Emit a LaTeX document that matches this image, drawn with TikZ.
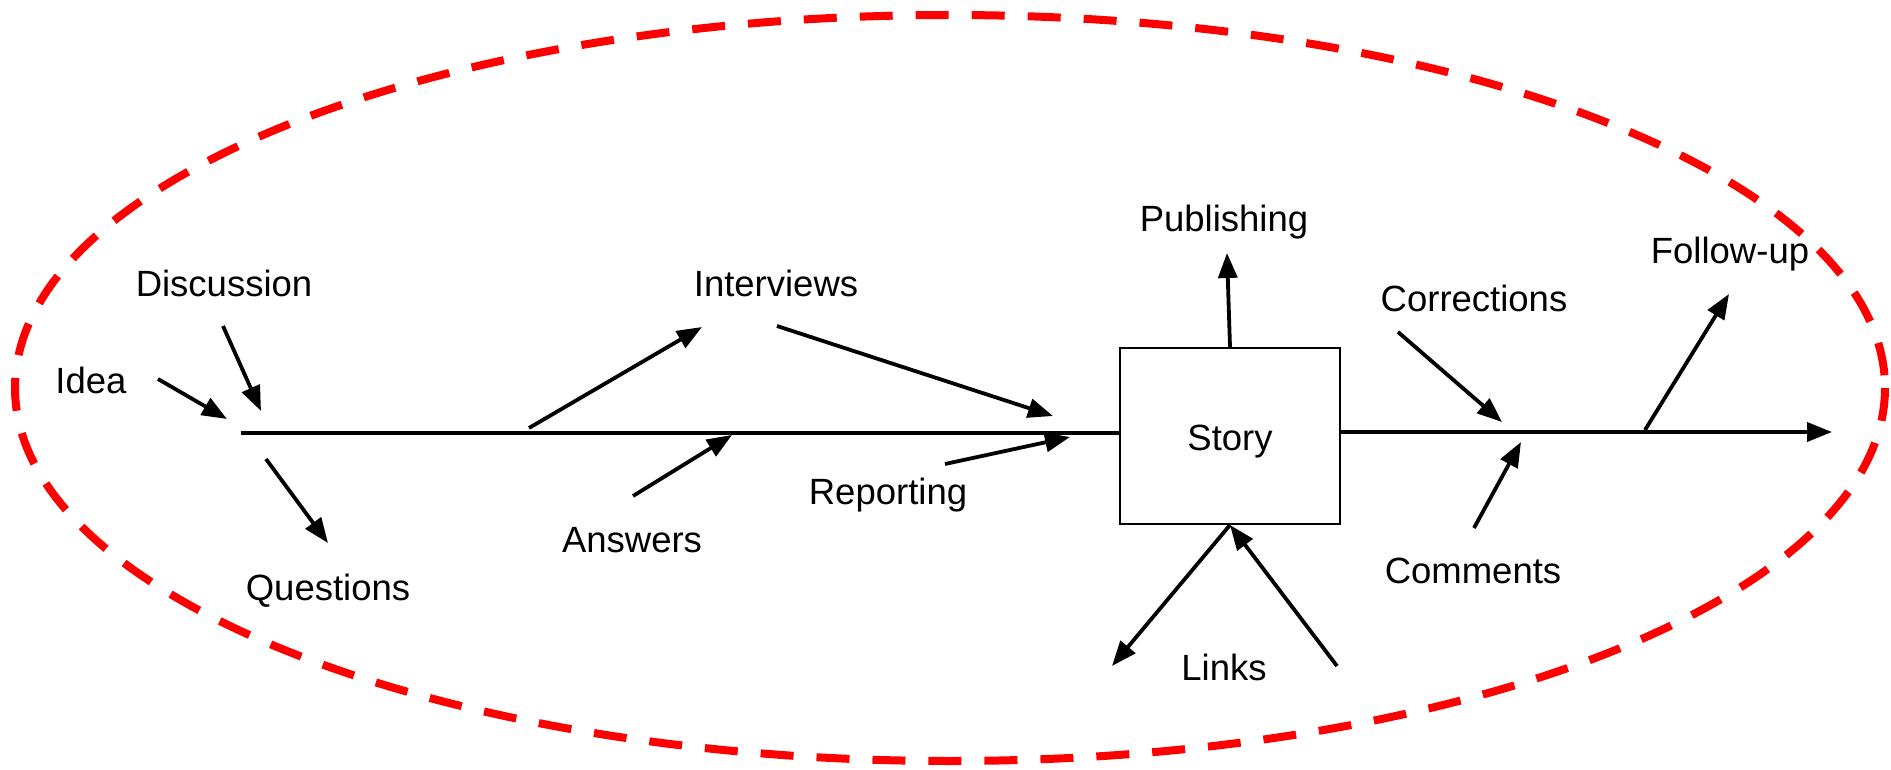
\documentclass[tikz,border=0pt]{standalone}
\usepackage{fontspec}
\setmainfont{Liberation Sans}
\usetikzlibrary{arrows.meta}
\begin{document}
\begin{tikzpicture}[x=1pt,y=-1pt,
  lbl/.style={anchor=base,inner sep=0pt,font=\fontsize{36.5}{44}\selectfont},
  arr/.style={line width=3.8pt,-{Triangle[length=25pt,width=19pt]}},
  spine/.style={line width=3.6pt},
  storybox/.style={draw,line width=2pt,minimum width=220pt,minimum height=176pt,inner sep=0pt,font=\fontsize{36.5}{44}\selectfont},
  loop/.style={draw=red,line width=8pt,dash pattern=on 33pt off 23pt}]
\useasboundingbox (0,0) rectangle (1891,770);
\draw[loop] (950,388) ellipse [x radius=935, y radius=373];
% box
\node[storybox] (story) at (1230,436) {};
\node[lbl] (storyt) at (1230,450) {Story};
% labels
\node[lbl] (idea) at (91,393) {Idea};
\node[lbl] (disc) at (224,297) {Discussion};
\node[lbl] (ques) at (328,600) {Questions};
\node[lbl] (intv) at (776,297) {Interviews};
\node[lbl] (answ) at (632,552) {Answers};
\node[lbl] (repo) at (888,504) {Reporting};
\node[lbl] (publ) at (1224,232) {Publishing};
\node[lbl] (corr) at (1474,312) {Corrections};
\node[lbl] (foll) at (1730,264) {Follow-up};
\node[lbl] (comm) at (1473,583) {Comments};
\node[lbl] (link) at (1224,680) {Links};
% coordinates
\coordinate (s0) at (241,433);
\coordinate (s1) at (1832,432);
\coordinate (ia) at (158,379); \coordinate (ib) at (227,419);
\coordinate (da) at (223,326); \coordinate (db) at (261,411);
\coordinate (qa) at (266,459); \coordinate (qb) at (328,543);
\coordinate (iva) at (529,428); \coordinate (ivb) at (702,327);
\coordinate (ira) at (777,326); \coordinate (irb) at (1053,416);
\coordinate (aa) at (633,496); \coordinate (ab) at (732,435);
\coordinate (ra) at (945,464); \coordinate (rb) at (1070,437);
\coordinate (pb) at (1227,253);
\coordinate (lb) at (1112,666);
\coordinate (la) at (1337,666);
\coordinate (ca) at (1398,332); \coordinate (cb) at (1502,422);
\coordinate (ma) at (1474,528); \coordinate (mb) at (1521,442);
\coordinate (fa) at (1645,430); \coordinate (fb) at (1729,294);
% spine
\draw[spine] (s0) -- (s0 -| story.west);
\draw[arr] (story.east |- s1) -- (s1);
% arrows
\draw[arr] (ia) -- (ib);
\draw[arr] (da) -- (db);
\draw[arr] (qa) -- (qb);
\draw[arr] (iva) -- (ivb);
\draw[arr] (ira) -- (irb);
\draw[arr] (aa) -- (ab);
\draw[arr] (ra) -- (rb);
\draw[arr] (story.north) -- (pb);
\draw[arr] (story.south) -- (lb);
\draw[arr] (la) -- (story.south);
\draw[arr] (ca) -- (cb);
\draw[arr] (ma) -- (mb);
\draw[arr] (fa) -- (fb);
\end{tikzpicture}
\end{document}
